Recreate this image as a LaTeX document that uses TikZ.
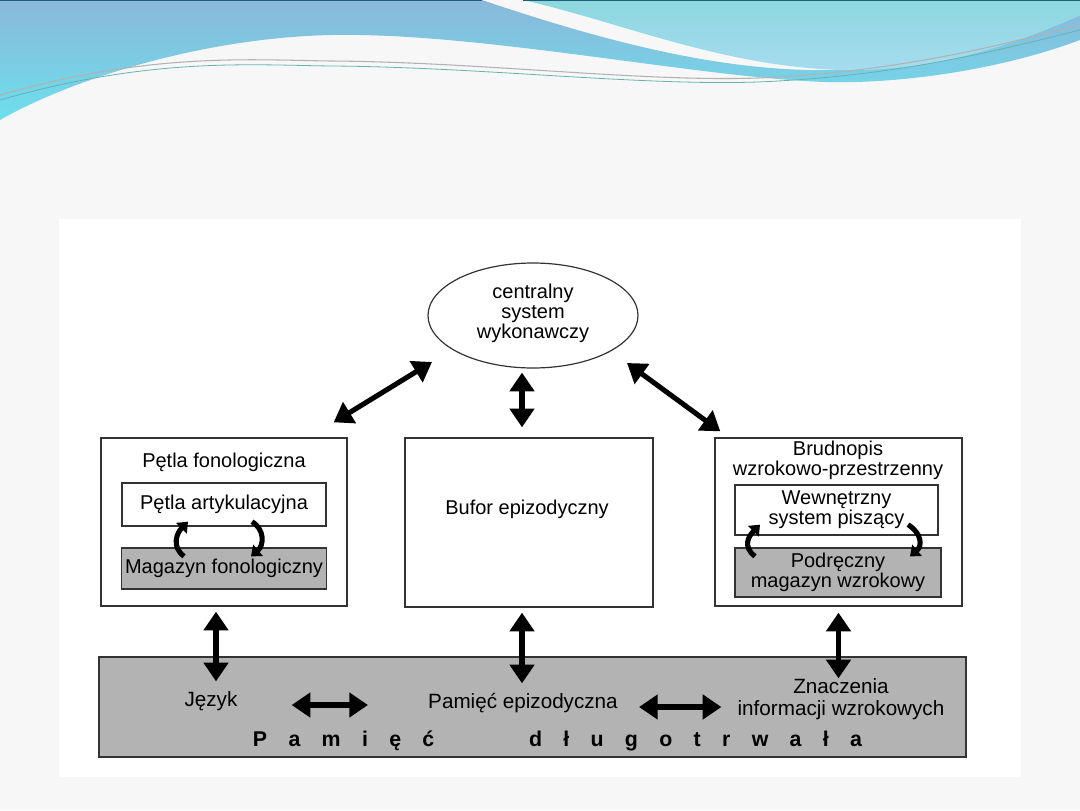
\documentclass[tikz,border=0pt]{standalone}
\usepackage{fontspec}
\setmainfont{Liberation Sans}
\usetikzlibrary{arrows.meta,shapes.geometric,calc}
\definecolor{slidebg}{HTML}{F7F7F7}
\definecolor{boxgray}{HTML}{B3B3B3}
\definecolor{edge}{HTML}{333333}
\definecolor{bluetop}{HTML}{8AB8D9}
\definecolor{bluebot}{HTML}{6CDFEE}
\definecolor{lighttop}{HTML}{8CD7DE}
\definecolor{lightbot}{HTML}{A6DCF0}
\definecolor{darkline}{HTML}{1E5F78}
\newcommand\lgap{\hspace{16pt}}
\begin{document}
\begin{tikzpicture}[x=0.75pt,y=-0.75pt,
  txt/.style={font=\fontsize{15}{15}\selectfont, align=center, text=black},
  boxout/.style={draw=edge, line width=1pt, fill=white, rectangle, inner sep=0pt},
  boxwhite/.style={draw=edge, line width=1pt, fill=white, rectangle, inner sep=0pt},
  boxgrey/.style={draw=edge, line width=1pt, fill=boxgray, rectangle, inner sep=0pt},
  bigarrow/.style={line width=3.8pt, {Triangle[width=18pt,length=14pt]}-{Triangle[width=18pt,length=14pt]}},
  looparrow/.style={line width=3.8pt, -{Triangle[width=11pt,length=7pt]}},
  plain/.style={inner sep=0pt}
]
\useasboundingbox (0,0) rectangle (1080,810);
% slide background
\fill[slidebg] (0,0) rectangle (1080,810);
% top decoration
\shade[top color=bluetop, bottom color=bluebot]
  (0,0) -- (482,0) .. controls (600,40) and (720,72) .. (830,70)
  .. controls (950,66) and (1030,38) .. (1080,15) -- (1080,40)
  .. controls (1000,70) and (900,84) .. (826,82)
  .. controls (700,78) and (480,32) .. (331,35)
  .. controls (200,38) and (70,80) .. (0,120) -- cycle;
\shade[top color=lighttop, bottom color=lightbot]
  (523,0) -- (1080,0) -- (1080,15)
  .. controls (1000,52) and (920,72) .. (840,70)
  .. controls (720,66) and (620,22) .. (523,0) -- cycle;
\draw[gray!60, line width=0.8pt] (0,95) .. controls (150,52) and (250,60) .. (331,61)
  .. controls (480,62) and (640,82) .. (758,78) .. controls (900,72) and (1000,45) .. (1080,25);
\draw[teal!60, line width=0.6pt] (0,100) .. controls (150,57) and (250,65) .. (331,66)
  .. controls (480,67) and (640,86) .. (758,82) .. controls (900,76) and (1000,50) .. (1080,30);
\draw[darkline, line width=1.2pt] (0,0.5) -- (482,0.5);
\draw[darkline, line width=1.2pt] (523,0.5) -- (1080,0.5);
% content panel
\fill[white] (59,219) rectangle (1021,777);

% central executive
\node[draw=edge, line width=0.9pt, fill=white, ellipse, minimum width=157.5pt, minimum height=78.75pt, inner sep=0pt] (ell) at (533,315.5) {};
\node[txt] (elltxt) at (533,313) {centralny\\system\\wykonawczy};

% left box
\node[boxout, minimum width=184.5pt, minimum height=126pt] (lbox) at (224,522) {};
\node[txt, plain] (ltitle) at (224,462) {Pętla fonologiczna};
\node[boxwhite, minimum width=153pt, minimum height=32.25pt, txt] (art) at (224,504.5) {Pętla artykulacyjna};
\node[boxgrey, minimum width=153.75pt, minimum height=30.75pt, txt] (mag) at (224,568.5) {Magazyn fonologiczny};

% middle box
\node[boxout, minimum width=186pt, minimum height=126.75pt] (buf) at (529,522.5) {};
\node[txt, plain] (buftxt) at (527,509) {Bufor epizodyczny};

% right box
\node[boxout, minimum width=185.25pt, minimum height=126pt] (rbox) at (838.5,522) {};
\node[txt, plain] (rtitle) at (838,460) {Brudnopis\\wzrokowo-przestrzenny};
\node[boxwhite, minimum width=152.25pt, minimum height=37.5pt, txt, font=\fontsize{15}{13.5}\selectfont] (ws) at (836.5,510) {Wewnętrzny\\system piszący};
\node[boxgrey, minimum width=154.5pt, minimum height=36.75pt, txt, font=\fontsize{15}{13.5}\selectfont] (pm) at (838,572.5) {Podręczny\\magazyn wzrokowy};

% bottom bar
\node[boxgrey, minimum width=650.25pt, minimum height=75pt] (bar) at (532.5,707) {};
\node[txt, plain, font=\fontsize{15.5}{16.5}\selectfont] (jez) at (211,701) {Język};
\node[txt, plain, font=\fontsize{15.5}{16.5}\selectfont] (pam) at (523,703) {Pamięć epizodyczna};
\node[txt, plain, font=\fontsize{15.5}{16.5}\selectfont] (zna) at (841,699) {Znaczenia\\informacji wzrokowych};
\node[plain, font=\fontsize{16}{16}\selectfont\bfseries] (dlug) at (557.5,741) {P\lgap a\lgap m\lgap i\lgap ę\lgap ć\hspace{71pt}d\lgap ł\lgap u\lgap g\lgap o\lgap t\lgap r\lgap w\lgap a\lgap ł\lgap a};

% arrows between executive and subsystems
\draw[bigarrow] ($(lbox.north east)+(-14,-15)$) -- ($(ell.center)+(-101,46.5)$);
\draw[bigarrow] ($(ell.south)+(-11,4)$) -- ($(buf.north)+(-7,-10)$);
\draw[bigarrow] ($(ell.center)+(94,47.5)$) -- ($(rbox.north west)+(6,-6)$);

% arrows to long-term memory
\draw[bigarrow] ($(lbox.south)+(-8,5)$) -- ($(lbox.south |- bar.north)+(-8,25)$);
\draw[bigarrow] ($(buf.south)+(-7,5)$) -- ($(buf.south |- bar.north)+(-7,27)$);
\draw[bigarrow] ($(rbox.south)+(0,6)$) -- ($(rbox.south |- bar.north)+(0,22)$);

% horizontal arrows inside long-term memory
\draw[bigarrow] ($(jez.east)+(54,4)$) -- ($(pam.west)+(-60,2)$);
\draw[bigarrow] ($(pam.east)+(21,4)$) -- ($(zna.west)+(-16,8)$);

% loop arrows
\draw[looparrow] ($(mag.north)+(-40,9)$) .. controls +(-13,-10) and +(-11,11) .. ($(art.south)+(-36,-5)$);
\draw[looparrow] ($(art.south)+(28,-5)$) .. controls +(13,8) and +(13,-11) .. ($(mag.north)+(27,9)$);
\draw[looparrow] ($(pm.north)+(-83,9)$) .. controls +(-13,-10) and +(-11,11) .. ($(ws.south)+(-76.5,-11)$);
\draw[looparrow] ($(ws.south)+(71.5,-11)$) .. controls +(13,8) and +(13,-11) .. ($(pm.north)+(72,9)$);
\end{tikzpicture}
\end{document}
